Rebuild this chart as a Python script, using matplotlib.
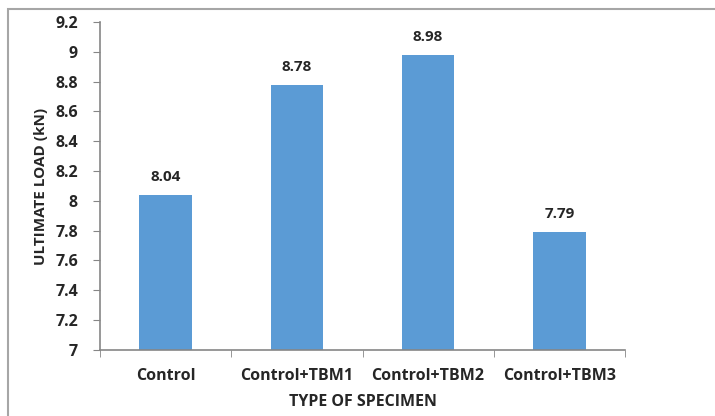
import matplotlib.pyplot as plt
from matplotlib.patches import Rectangle
import numpy as np

# 試験体の種類と最大荷重
specimens = ["Control", "Control+TBM1", "Control+TBM2", "Control+TBM3"]
ultimate_load = [8.04, 8.78, 8.98, 7.79]
y_ticks = [7, 7.2, 7.4, 7.6, 7.8, 8, 8.2, 8.4, 8.6, 8.8, 9, 9.2]
y_tick_labels = ["7", "7.2", "7.4", "7.6", "7.8", "8", "8.2", "8.4", "8.6", "8.8", "9", "9.2"]

plt.rcParams["font.family"] = ["Open Sans", "DejaVu Sans"]

fig = plt.figure(figsize=(7.15, 4.16), dpi=100)
ax = fig.add_axes([0.14, 0.159, 0.734, 0.788])

# 外枠
fig.patches.append(Rectangle((8 / 715, -0.1), 1.2, 1 - 9 / 416 + 0.1,
                             transform=fig.transFigure, fill=False,
                             edgecolor="#a6a6a6", linewidth=1.5))

x = np.arange(len(specimens))
ax.bar(x, np.array(ultimate_load) - 7, bottom=7, width=0.4, color="#5B9BD5")

for xi, v in zip(x, ultimate_load):
    ax.annotate(f"{v:.2f}", (xi, v), xytext=(0, 8), textcoords="offset points",
                ha="center", va="bottom", fontsize=11, fontweight="bold",
                color="#262626")

ax.set_ylim(7, 9.2)
ax.set_xlim(-0.5, 3.5)
ax.set_yticks(y_ticks)
ax.set_yticklabels(y_tick_labels)
ax.set_xticks(x)
ax.set_xticklabels(specimens)
ax.set_xticks(np.arange(-0.5, 4, 1), minor=True)
ax.tick_params(axis="x", which="major", length=0, pad=13)
ax.tick_params(axis="x", which="minor", length=5, color="#868686")
ax.tick_params(axis="y", length=5, color="#868686", pad=11)
for lab in ax.get_xticklabels() + ax.get_yticklabels():
    lab.set_fontweight("bold")
    lab.set_fontsize(11.5)
    lab.set_color("#262626")

for s in ["top", "right"]:
    ax.spines[s].set_visible(False)
for s in ["left", "bottom"]:
    ax.spines[s].set_color("#868686")
    ax.spines[s].set_linewidth(1.2)

ax.set_ylabel("ULTIMATE LOAD (kN)", fontsize=11, fontweight="bold",
              color="#262626", labelpad=5)
ax.set_xlabel("TYPE OF SPECIMEN", fontsize=11.5, fontweight="bold",
              color="#262626", labelpad=7)

plt.savefig("out.png")
